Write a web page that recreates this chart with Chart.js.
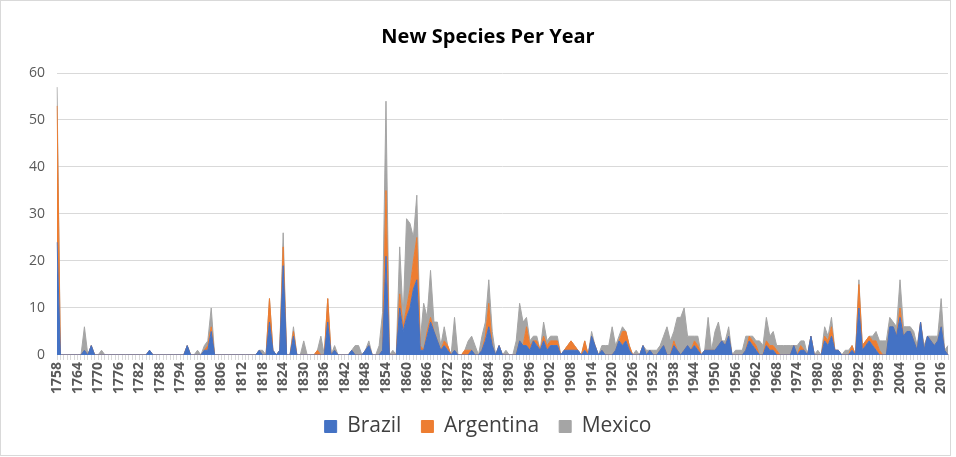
<!DOCTYPE html>
<html>
<head>
<meta charset="utf-8">
<script src="https://cdn.jsdelivr.net/npm/chart.js@4.4.1/dist/chart.umd.min.js"></script>
<style>
  html, body { margin: 0; padding: 0; background: #fff; }
  #wrap { width: 956px; height: 457px; }
</style>
</head>
<body>
<div id="wrap"><canvas id="speciesChart" width="956" height="457"></canvas></div>
<script>
// one value per year, 1758 .. 2018
const firstYear = 1758;
const lastYear = 2018;

const brazil = [
  24,0,0,0,0,0,0,0,1,0,  // 1758
  2,0,0,0,0,0,0,0,0,0,   // 1768
  0,0,0,0,0,0,0,1,0,0,   // 1778
  0,0,0,0,0,0,0,0,2,0,   // 1788
  0,0,0,1,1,5,0,0,0,0,   // 1798
  0,0,0,0,0,0,0,0,0,1,   // 1808
  0,0,7,1,0,1,19,0,0,4,  // 1818
  0,0,0,0,0,0,0,0,0,7,   // 1828
  0,1,0,0,0,0,1,0,0,0,   // 1838
  1,2,0,0,0,1,21,0,0,0,  // 1848
  10,5,8,10,14,16,1,1,4,7, // 1858
  5,3,1,2,1,0,1,0,0,0,   // 1868
  0,1,0,0,1,3,6,2,0,2,   // 1878
  0,0,0,0,0,3,2,2,1,3,   // 1888
  2,1,3,1,2,2,2,0,1,1,   // 1898
  1,1,1,0,1,0,4,2,0,1,   // 1908
  0,0,0,1,3,2,3,1,0,0,   // 1918
  0,2,0,1,0,0,1,2,0,0,   // 1928
  2,1,0,1,2,1,2,1,0,1,   // 1938
  1,1,1,2,3,2,4,0,0,0,   // 1948
  0,1,3,2,1,0,0,2,1,1,   // 1958
  0,0,0,0,0,2,0,1,1,0,   // 1968
  4,0,0,0,3,2,4,1,1,0,   // 1978
  0,0,1,0,10,1,2,3,2,1,  // 1988
  0,0,0,6,6,4,8,4,5,5,   // 1998
  3,1,7,1,4,3,2,3,6,1,   // 2008
  0                      // 2018
];

const argentina = [
  29,0,0,0,0,0,0,0,0,0,  // 1758
  0,0,0,0,0,0,0,0,0,0,   // 1768
  0,0,0,0,0,0,0,0,0,0,   // 1778
  0,0,0,0,0,0,0,0,0,0,   // 1788
  0,0,0,0,1,1,0,0,0,0,   // 1798
  0,0,0,0,0,0,0,0,0,0,   // 1808
  0,0,5,0,0,0,4,0,0,1,   // 1818
  0,0,0,0,0,0,1,0,0,5,   // 1828
  0,0,0,0,0,0,0,0,0,0,   // 1838
  0,0,0,0,0,0,14,0,0,0,  // 1848
  3,1,2,4,6,9,1,0,1,1,   // 1858
  0,0,0,1,1,0,0,0,0,1,   // 1868
  1,0,0,0,0,1,5,0,0,0,   // 1878
  0,0,0,0,0,0,0,4,1,0,   // 1888
  1,0,1,1,1,1,1,0,0,1,   // 1898
  2,1,0,0,2,0,0,0,0,0,   // 1908
  0,0,0,0,0,3,2,1,0,0,   // 1918
  0,0,0,0,0,0,0,0,0,0,   // 1928
  1,0,0,0,0,0,1,1,0,0,   // 1938
  0,0,0,0,0,0,0,0,0,0,   // 1948
  0,0,1,1,1,0,0,1,1,1,   // 1958
  1,0,0,0,0,0,0,1,0,0,   // 1968
  0,0,0,0,1,1,2,0,0,0,   // 1978
  0,0,1,0,5,1,1,1,1,2,   // 1988
  1,0,0,0,0,0,2,0,0,0,   // 1998
  0,0,0,0,0,0,0,0,0,0,   // 2008
  0                      // 2018
];

const mexico = [
  4,0,0,0,0,0,0,0,5,0,   // 1758
  0,0,0,1,0,0,0,0,0,0,   // 1768
  0,0,0,0,0,0,0,0,0,0,   // 1778
  0,0,0,0,0,0,0,0,0,0,   // 1788
  0,1,0,1,1,4,0,0,0,0,   // 1798
  0,0,0,0,0,0,0,0,0,0,   // 1808
  1,0,0,0,0,0,3,0,0,1,   // 1818
  0,0,3,0,0,0,0,4,0,0,   // 1828
  0,1,0,0,0,0,0,2,2,0,   // 1838
  0,1,0,0,2,8,19,0,1,0,  // 1848
  10,2,19,14,5,9,1,10,3,10, // 1858
  2,4,1,3,0,0,7,0,0,0,   // 1868
  2,3,2,0,3,3,5,3,0,0,   // 1878
  0,1,0,0,3,8,5,2,1,1,   // 1888
  1,0,3,1,1,1,1,0,0,0,   // 1898
  0,0,0,0,0,0,1,0,0,1,   // 1908
  2,2,6,1,1,1,0,0,0,1,   // 1918
  0,0,1,0,1,1,1,2,6,3,   // 1928
  2,7,8,9,2,3,1,2,0,0,   // 1938
  7,0,4,5,0,1,2,0,1,1,   // 1948
  1,3,0,1,1,3,2,5,2,3,   // 1958
  1,2,2,2,2,0,2,1,2,0,   // 1968
  0,0,1,0,2,1,2,0,0,0,   // 1978
  1,1,0,0,1,0,0,0,1,2,   // 1988
  2,3,3,2,1,2,6,2,1,1,   // 1998
  2,1,0,1,0,1,2,1,6,0,   // 2008
  2                      // 2018
];

const years = [];
for (let y = firstYear; y <= lastYear; y++) years.push(String(y));

const yTicks = [0, 10, 20, 30, 40, 50, 60];
const labelEvery = 6;

const chartBorder = {
  id: 'chartBorder',
  afterDraw(chart) {
    const c = chart.ctx;
    c.save();
    c.strokeStyle = '#d9d9d9';
    c.lineWidth = 1;
    c.strokeRect(0.5, 0.5, 950, 455);
    c.restore();
  }
};

function series(label, data, color, fill) {
  return {
    label: label,
    data: data,
    backgroundColor: color,
    borderColor: color,
    borderWidth: 1,
    pointRadius: 0,
    tension: 0,
    fill: fill
  };
}

Chart.defaults.font.family = '"Open Sans", sans-serif';

new Chart(document.getElementById('speciesChart').getContext('2d'), {
  type: 'line',
  data: {
    labels: years,
    datasets: [
      series('Brazil', brazil, '#4472c4', 'origin'),
      series('Argentina', argentina, '#ed7d31', '-1'),
      series('Mexico', mexico, '#a5a5a5', '-1')
    ]
  },
  options: {
    responsive: false,
    animation: false,
    layout: { padding: { top: 25, left: 28, right: 8, bottom: 10 } },
    scales: {
      x: {
        offset: false,
        afterFit: s => { s.paddingLeft = 0; s.paddingRight = 0; },
        grid: {
          drawOnChartArea: false,
          color: '#d9d9d9',
          tickLength: 5
        },
        border: { color: '#d9d9d9' },
        ticks: {
          autoSkip: false,
          maxRotation: 90,
          minRotation: 90,
          color: '#595959',
          font: { size: 14, weight: 'bold' },
          padding: 2,
          callback: (v, i) => (i % labelEvery === 0 ? years[i] : '')
        }
      },
      y: {
        stacked: true,
        min: yTicks[0],
        max: yTicks[yTicks.length - 1],
        afterBuildTicks: s => { s.ticks = yTicks.map(v => ({ value: v })); },
        afterFit: s => { s.width = 29; },
        grid: { color: '#d9d9d9', drawTicks: false },
        border: { display: false },
        ticks: {
          color: '#595959',
          font: { size: 14 },
          padding: 12
        }
      }
    },
    plugins: {
      title: {
        display: true,
        text: 'New Species Per Year',
        color: '#000',
        font: { size: 20, weight: 'bold' },
        padding: { top: 0, bottom: 24 }
      },
      legend: {
        position: 'bottom',
        labels: {
          boxWidth: 12,
          boxHeight: 12,
          color: '#404040',
          font: { size: 21 },
          padding: 20
        }
      },
      tooltip: { enabled: false }
    }
  },
  plugins: [chartBorder]
});
</script>
</body>
</html>
